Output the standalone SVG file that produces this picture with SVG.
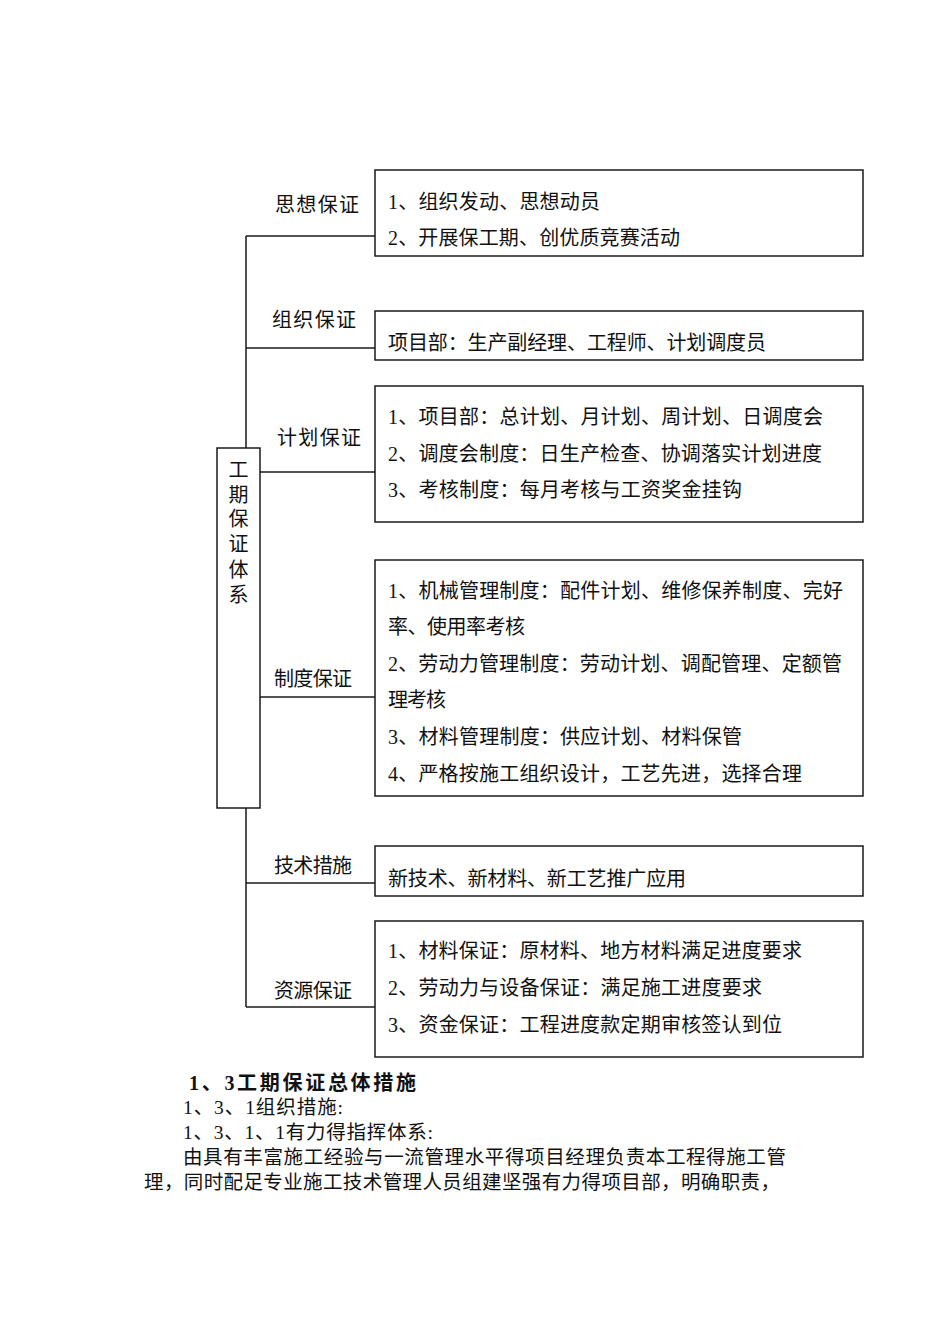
<svg xmlns="http://www.w3.org/2000/svg" width="950" height="1344" viewBox="0 0 950 1344">
<style>
  .bg{fill:#ffffff}
  .box{fill:#ffffff;stroke:#1a1a1a;stroke-width:1.5}
  .ln{fill:none;stroke:#1a1a1a;stroke-width:1.5}
  text{font-family:"Liberation Serif","Noto Sans CJK SC",serif;fill:#111;dominant-baseline:central}
  .t{font-size:20px}
  .lb{font-size:20px}
  .v{font-size:20px;text-anchor:middle}
  .p{font-size:19.5px}
  .h{font-size:20px;font-weight:bold}
</style>
<rect class="bg" x="0" y="0" width="950" height="1344"/>

<g id="connectors">
  <path class="ln" d="M246,236 V448 M246,808 V1007"/>
  <path class="ln" d="M246,236 H375"/>
  <path class="ln" d="M246,348 H375"/>
  <path class="ln" d="M260,472 H375"/>
  <path class="ln" d="M260,697 H375"/>
  <path class="ln" d="M246,883 H375"/>
  <path class="ln" d="M246,1007 H375"/>
</g>

<g id="root">
  <rect class="box" x="217" y="448" width="43" height="360"/>
  <text class="v" x="238.5" y="470">工</text>
  <text class="v" x="238.5" y="495">期</text>
  <text class="v" x="238.5" y="519">保</text>
  <text class="v" x="238.5" y="544">证</text>
  <text class="v" x="238.5" y="570">体</text>
  <text class="v" x="238.5" y="595">系</text>
</g>

<g id="n1">
  <text class="lb" x="275" y="205" textLength="84" lengthAdjust="spacing">思想保证</text>
  <rect class="box" x="375" y="170" width="488" height="86"/>
  <text class="t" x="388" y="202" textLength="212" lengthAdjust="spacing">1、组织发动、思想动员</text>
  <text class="t" x="388" y="238" textLength="292" lengthAdjust="spacing">2、开展保工期、创优质竞赛活动</text>
</g>

<g id="n2">
  <text class="lb" x="272" y="320" textLength="84" lengthAdjust="spacing">组织保证</text>
  <rect class="box" x="375" y="311" width="488" height="49"/>
  <text class="t" x="388" y="343" textLength="378" lengthAdjust="spacing">项目部：生产副经理、工程师、计划调度员</text>
</g>

<g id="n3">
  <text class="lb" x="277" y="438" textLength="84" lengthAdjust="spacing">计划保证</text>
  <rect class="box" x="375" y="386" width="488" height="136"/>
  <text class="t" x="388" y="417" textLength="435" lengthAdjust="spacing">1、项目部：总计划、月计划、周计划、日调度会</text>
  <text class="t" x="388" y="454" textLength="434" lengthAdjust="spacing">2、调度会制度：日生产检查、协调落实计划进度</text>
  <text class="t" x="388" y="490" textLength="354" lengthAdjust="spacing">3、考核制度：每月考核与工资奖金挂钩</text>
</g>

<g id="n4">
  <text class="lb" x="274" y="679" textLength="78" lengthAdjust="spacing">制度保证</text>
  <rect class="box" x="375" y="560" width="488" height="236"/>
  <text class="t" x="388" y="591" textLength="455" lengthAdjust="spacing">1、机械管理制度：配件计划、维修保养制度、完好</text>
  <text class="t" x="388" y="627" textLength="137" lengthAdjust="spacing">率、使用率考核</text>
  <text class="t" x="388" y="664" textLength="454" lengthAdjust="spacing">2、劳动力管理制度：劳动计划、调配管理、定额管</text>
  <text class="t" x="388" y="700" textLength="58" lengthAdjust="spacing">理考核</text>
  <text class="t" x="388" y="737" textLength="354" lengthAdjust="spacing">3、材料管理制度：供应计划、材料保管</text>
  <text class="t" x="388" y="774" textLength="414" lengthAdjust="spacing">4、严格按施工组织设计，工艺先进，选择合理</text>
</g>

<g id="n5">
  <text class="lb" x="274" y="866" textLength="78" lengthAdjust="spacing">技术措施</text>
  <rect class="box" x="375" y="846" width="488" height="50"/>
  <text class="t" x="388" y="879" textLength="298" lengthAdjust="spacing">新技术、新材料、新工艺推广应用</text>
</g>

<g id="n6">
  <text class="lb" x="274" y="991" textLength="78" lengthAdjust="spacing">资源保证</text>
  <rect class="box" x="375" y="921" width="488" height="136"/>
  <text class="t" x="388" y="951" textLength="414" lengthAdjust="spacing">1、材料保证：原材料、地方材料满足进度要求</text>
  <text class="t" x="388" y="988" textLength="374" lengthAdjust="spacing">2、劳动力与设备保证：满足施工进度要求</text>
  <text class="t" x="388" y="1025" textLength="394" lengthAdjust="spacing">3、资金保证：工程进度款定期审核签认到位</text>
</g>

<g id="body">
  <text class="h" x="189" y="1083" textLength="227" lengthAdjust="spacing">1、3工期保证总体措施</text>
  <text class="p" x="183" y="1107" textLength="160" lengthAdjust="spacing">1、3、1组织措施:</text>
  <text class="p" x="183" y="1132" textLength="250" lengthAdjust="spacing">1、3、1、1有力得指挥体系:</text>
  <text class="p" x="183" y="1157" textLength="603" lengthAdjust="spacing">由具有丰富施工经验与一流管理水平得项目经理负责本工程得施工管</text>
  <text class="p" x="144" y="1182" textLength="636" lengthAdjust="spacing">理，同时配足专业施工技术管理人员组建坚强有力得项目部，明确职责，</text>
</g>
</svg>
